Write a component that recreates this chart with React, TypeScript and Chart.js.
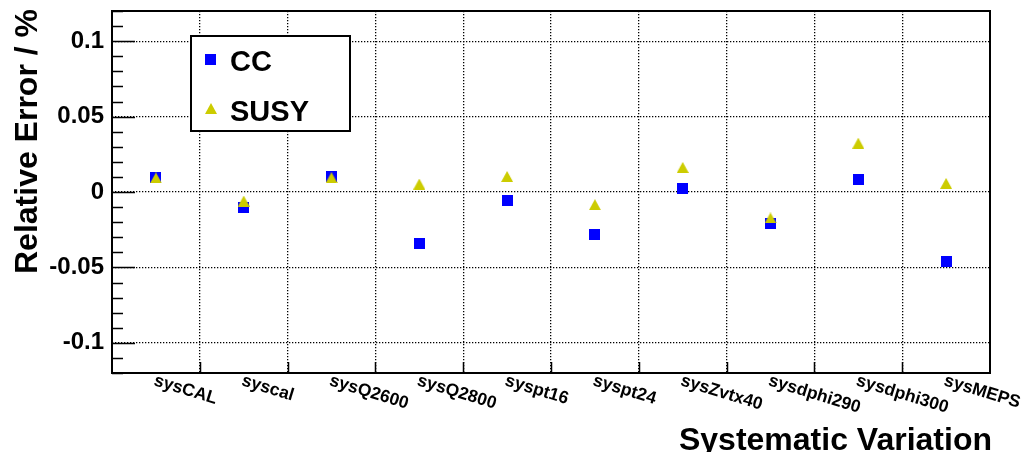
import React, { useEffect, useRef } from "react";
import { Chart, registerables } from "chart.js";

Chart.register(...registerables);

const categories = [
  "sysCAL", "syscal", "sysQ2600", "sysQ2800", "syspt16",
  "syspt24", "sysZvtx40", "sysdphi290", "sysdphi300", "sysMEPS",
];
const ccValues = [0.0097, -0.0105, 0.0100, -0.0341, -0.0055, -0.0284, 0.0026, -0.0211, 0.0083, -0.0464];
const susyValues = [0.0093, -0.0060, 0.0095, 0.0053, 0.0103, -0.0084, 0.0163, -0.0172, 0.0324, 0.0057];
const yMajorTicks = [-0.1, -0.05, 0, 0.05, 0.1];
const yMinorTicks = [-0.12, -0.11, -0.09, -0.08, -0.07, -0.06, -0.04, -0.03, -0.02, -0.01, 0.01, 0.02, 0.03, 0.04, 0.06, 0.07, 0.08, 0.09, 0.11, 0.12];
const seriesNames = ["CC", "SUSY"];
const yTitle = "Relative Error / %";
const xTitle = "Systematic Variation";

const BLUE = "#0000ff";
const YELLOW = "#cccc00";
const FONT = "'Liberation Sans', Arial, Helvetica, sans-serif";

function makeSquare(): HTMLCanvasElement {
  const c = document.createElement("canvas");
  c.width = 11;
  c.height = 11;
  const g = c.getContext("2d")!;
  g.fillStyle = BLUE;
  g.fillRect(0, 0, 11, 11);
  return c;
}

function makeTriangle(): HTMLCanvasElement {
  const c = document.createElement("canvas");
  c.width = 12;
  c.height = 11;
  const g = c.getContext("2d")!;
  g.fillStyle = YELLOW;
  g.beginPath();
  g.moveTo(6, 0);
  g.lineTo(12, 11);
  g.lineTo(0, 11);
  g.closePath();
  g.fill();
  return c;
}

export default function App() {
  const ref = useRef<HTMLCanvasElement | null>(null);

  useEffect(() => {
    if (!ref.current) return;
    const sq = makeSquare();
    const tri = makeTriangle();

    const decor = {
      id: "rootDecor",
      afterDraw(chart: any) {
        const ctx = chart.ctx as CanvasRenderingContext2D;
        const area = chart.chartArea;
        const xs = chart.scales.x;
        const ys = chart.scales.y;
        ctx.save();

        // Frame
        ctx.strokeStyle = "#000";
        ctx.lineWidth = 2;
        ctx.strokeRect(area.left, area.top, area.right - area.left, area.bottom - area.top);

        // Y ticks (inside)
        ctx.lineWidth = 1.5;
        ctx.beginPath();
        yMajorTicks.forEach((v) => {
          const y = Math.round(ys.getPixelForValue(v)) + 0.5;
          ctx.moveTo(area.left, y);
          ctx.lineTo(area.left + 23, y);
        });
        yMinorTicks.forEach((v) => {
          const y = Math.round(ys.getPixelForValue(v)) + 0.5;
          ctx.moveTo(area.left, y);
          ctx.lineTo(area.left + 11, y);
        });
        ctx.stroke();

        // X ticks at bin edges
        ctx.beginPath();
        for (let i = 0; i < categories.length - 1; i++) {
          const x = Math.round((xs.getPixelForValue(i) + xs.getPixelForValue(i + 1)) / 2) + 0.5;
          ctx.moveTo(x, area.bottom);
          ctx.lineTo(x, area.bottom - 11);
        }
        ctx.stroke();

        // X labels rotated
        ctx.fillStyle = "#000";
        ctx.font = `bold 17.5px ${FONT}`;
        ctx.textAlign = "left";
        ctx.textBaseline = "alphabetic";
        categories.forEach((lab, i) => {
          const x = xs.getPixelForValue(i);
          ctx.save();
          ctx.translate(x - 3, area.bottom + 12);
          ctx.rotate((17 * Math.PI) / 180);
          ctx.fillText(lab, 0, 0);
          ctx.restore();
        });

        // Axis titles
        ctx.font = `bold 32px ${FONT}`;
        ctx.textAlign = "right";
        ctx.fillText(xTitle, area.right + 2, 450);
        ctx.save();
        ctx.translate(37, 9);
        ctx.rotate(-Math.PI / 2);
        ctx.textAlign = "right";
        ctx.fillText(yTitle, 0, 0);
        ctx.restore();

        // Legend
        const lx = 191, ly = 36, lw = 159, lh = 95;
        ctx.fillStyle = "#fff";
        ctx.fillRect(lx, ly, lw, lh);
        ctx.strokeStyle = "#000";
        ctx.lineWidth = 2;
        ctx.strokeRect(lx, ly, lw, lh);
        ctx.drawImage(sq, 205, 54);
        ctx.drawImage(tri, 205, 103);
        ctx.fillStyle = "#000";
        ctx.font = `bold 29px ${FONT}`;
        ctx.textAlign = "left";
        ctx.fillText(seriesNames[0], 230, 71);
        ctx.fillText(seriesNames[1], 230, 121);

        ctx.restore();
      },
    };

    const chart = new Chart(ref.current, {
      type: "line",
      data: {
        labels: categories,
        datasets: [
          {
            label: seriesNames[0],
            data: ccValues,
            showLine: false,
            order: 1,
            pointStyle: sq as any,
            pointRadius: 6,
            borderColor: BLUE,
            backgroundColor: BLUE,
          },
          {
            label: seriesNames[1],
            data: susyValues,
            showLine: false,
            order: 0,
            pointStyle: tri as any,
            pointRadius: 6,
            borderColor: YELLOW,
            backgroundColor: YELLOW,
          },
        ],
      },
      options: {
        responsive: false,
        animation: false,
        events: [],
        layout: { padding: { left: 0, top: 11, right: 31, bottom: 0 } },
        plugins: {
          legend: { display: false },
          tooltip: { enabled: false },
          title: { display: false },
        },
        scales: {
          x: {
            type: "category",
            offset: true,
            grid: { offset: true, color: "#000", lineWidth: 1.3, drawTicks: false },
            border: { display: false, dash: [1.3, 1.7] },
            ticks: { display: false },
            afterFit: (s: any) => {
              s.height = 79;
              s.paddingLeft = 0;
              s.paddingRight = 0;
            },
          },
          y: {
            min: -0.12,
            max: 0.12,
            grid: { color: "#000", lineWidth: 1.3, drawTicks: false },
            border: { display: false, dash: [1.3, 1.7] },
            ticks: {
              stepSize: 0.05,
              includeBounds: false,
              padding: 8,
              color: "#000",
              font: { family: FONT, size: 24, weight: "bold" },
              callback: (v: any) => String(+Number(v).toFixed(2)),
            },
            afterFit: (s: any) => {
              s.width = 112;
              s.paddingTop = 0;
              s.paddingBottom = 0;
            },
          },
        },
      } as any,
      plugins: [decor],
    });

    return () => chart.destroy();
  }, []);

  return (
    <div style={{ position: "fixed", left: 0, top: 0, width: 1021, height: 452, background: "#fff" }}>
      <canvas ref={ref} width={1021} height={452} style={{ display: "block" }} />
    </div>
  );
}
